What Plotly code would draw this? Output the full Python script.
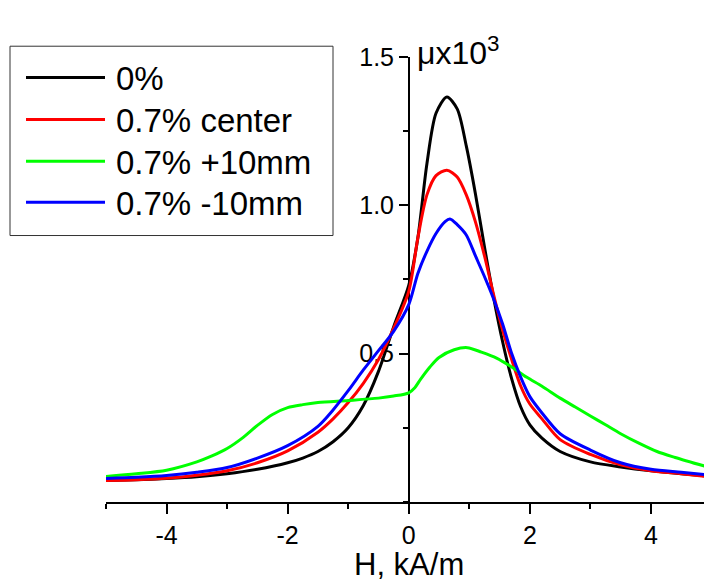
import plotly.graph_objects as go

W, H = 704, 581

series_names = ["0%", "0.7% center", "0.7% +10mm", "0.7% -10mm"]
series_colors = ["#000000", "#ff0000", "#00ff00", "#0000ff"]

x_black = [-5, -4.5, -4, -3.5, -3, -2.5, -2, -1.75, -1.5, -1.25, -1, -0.75, -0.5, -0.25, 0,
           0.15, 0.3, 0.45, 0.63, 0.8, 0.95, 1.1, 1.25, 1.4, 1.55, 1.7, 1.85, 2.0, 2.2, 2.5,
           3.0, 3.5, 4.0, 4.5, 4.9]
y_black = [0.072, 0.075, 0.079, 0.085, 0.095, 0.11, 0.132, 0.148, 0.17, 0.203, 0.25, 0.325,
           0.44, 0.59, 0.73, 0.89, 1.14, 1.31, 1.365, 1.325, 1.2, 1.04, 0.86, 0.69, 0.54,
           0.415, 0.32, 0.26, 0.215, 0.17, 0.135, 0.118, 0.105, 0.095, 0.088]

x_red = [-5, -4.5, -4, -3.5, -3, -2.5, -2, -1.5, -1.25, -1, -0.75, -0.5, -0.25, 0, 0.15,
         0.3, 0.45, 0.63, 0.8, 0.95, 1.1, 1.25, 1.4, 1.55, 1.7, 1.85, 2.0, 2.2, 2.5, 3.0,
         3.5, 4.0, 4.5, 4.9]
y_red = [0.072, 0.075, 0.08, 0.09, 0.105, 0.132, 0.172, 0.235, 0.28, 0.335, 0.4, 0.48,
         0.585, 0.71, 0.89, 1.035, 1.1, 1.118, 1.095, 1.035, 0.945, 0.83, 0.7, 0.58, 0.48,
         0.39, 0.33, 0.28, 0.21, 0.16, 0.125, 0.105, 0.095, 0.086]

x_green = [-5, -4.5, -4, -3.5, -3.25, -3, -2.75, -2.5, -2.25, -2, -1.75, -1.5, -1, -0.5,
           -0.25, 0, 0.1, 0.2, 0.35, 0.5, 0.75, 0.97, 1.2, 1.45, 1.7, 1.95, 2.2, 2.5, 2.75,
           3.0, 3.25, 3.5, 3.8, 4.1, 4.4, 4.9]
y_green = [0.086, 0.095, 0.107, 0.135, 0.155, 0.18, 0.215, 0.258, 0.295, 0.318, 0.328,
           0.335, 0.342, 0.35, 0.357, 0.368, 0.385, 0.415, 0.455, 0.487, 0.513, 0.52, 0.505,
           0.485, 0.455, 0.42, 0.39, 0.35, 0.32, 0.29, 0.26, 0.23, 0.198, 0.17, 0.15, 0.12]

x_blue = [-5, -4.5, -4, -3.5, -3, -2.5, -2, -1.5, -1.25, -1, -0.75, -0.5, -0.25, 0, 0.15,
          0.3, 0.45, 0.6, 0.68, 0.8, 0.95, 1.1, 1.25, 1.4, 1.55, 1.7, 1.85, 2.0, 2.2, 2.5,
          3.0, 3.5, 4.0, 4.5, 4.9]
y_blue = [0.079, 0.083, 0.089, 0.1, 0.116, 0.148, 0.19, 0.255, 0.31, 0.375, 0.445, 0.51,
          0.575, 0.665, 0.77, 0.845, 0.905, 0.945, 0.954, 0.935, 0.9, 0.83, 0.76, 0.685,
          0.6, 0.5, 0.42, 0.355, 0.3, 0.23, 0.175, 0.132, 0.11, 0.1, 0.092]

xs = [x_black, x_red, x_green, x_blue]
ys = [y_black, y_red, y_green, y_blue]

x_ticks = [-4, -2, 0, 2, 4]
x_ticktext = ["-4", "-2", "0", "2", "4"]
y_ticks = [0.5, 1.0, 1.5]
x_title = "H, kA/m"
y_title = "μx10<sup>3</sup>"

FONT = "Arial, Liberation Sans, sans-serif"

def px(x):
    return x / W

def py(y):
    return 1 - y / H

fig = go.Figure()
for xv, yv, c, n in zip(xs, ys, series_colors, series_names):
    fig.add_trace(go.Scatter(x=xv, y=yv, mode="lines", name=n,
                             line=dict(color=c, width=3, shape="spline", smoothing=0.8),
                             showlegend=False))

fig.update_layout(
    width=W, height=H,
    margin=dict(l=0, r=0, t=0, b=0),
    paper_bgcolor="white", plot_bgcolor="white",
    font=dict(family=FONT, color="black", size=24),
    xaxis=dict(domain=[px(106), 1], range=[-5, 4.876], showgrid=False, zeroline=False,
               showline=True, linecolor="black", linewidth=2,
               ticks="outside", ticklen=10, tickwidth=2, tickcolor="black",
               tickvals=x_ticks, ticktext=x_ticktext, tickfont=dict(size=25),
               minor=dict(dtick=1, tick0=-5, ticks="outside", ticklen=5, tickwidth=2, tickcolor="black")),
    yaxis=dict(domain=[1 - 500 / H, 1 - 44 / H], range=[0, 1.5], showgrid=False, zeroline=False,
               anchor="free", position=px(409), layer="below traces",
               showline=True, linecolor="black", linewidth=2,
               ticks="outside", ticklen=9, tickwidth=2, tickcolor="black",
               tickvals=y_ticks, tickformat=".1f", tickfont=dict(size=25),
               minor=dict(dtick=0.25, tick0=0, ticks="outside", ticklen=5, tickwidth=2, tickcolor="black")),
)

# axis titles
fig.add_annotation(x=px(409), y=py(564.5), xref="paper", yref="paper", text=x_title,
                   showarrow=False, xanchor="center", yanchor="middle", font=dict(size=31))
fig.add_annotation(x=px(415), y=py(38), xref="paper", yref="paper", text=y_title,
                   showarrow=False, xanchor="left", yanchor="middle", font=dict(size=32))

# legend box
fig.add_shape(type="rect", xref="paper", yref="paper", x0=px(10), x1=px(333), y0=py(33), y1=py(227),
              line=dict(color="#333333", width=1), fillcolor="white", layer="above")
rows = [65, 108, 151, 193]
for n, c, r in zip(series_names, series_colors, rows):
    fig.add_shape(type="line", xref="paper", yref="paper", x0=px(26), x1=px(105), y0=py(r), y1=py(r),
                  line=dict(color=c, width=3), layer="above")
    fig.add_annotation(x=px(114), y=py(r + 1), xref="paper", yref="paper", text=n, showarrow=False,
                       xanchor="left", yanchor="middle", font=dict(size=33))

fig.write_html("out.html")
